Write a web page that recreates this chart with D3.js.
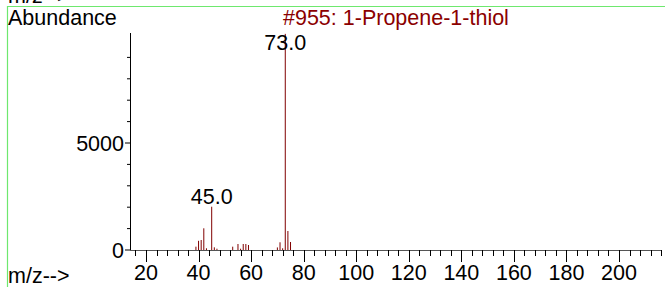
<!DOCTYPE html>
<html><head><meta charset="utf-8">
<script src="https://cdn.jsdelivr.net/npm/d3@7"></script>
<style>html,body{margin:0;padding:0;background:#fff;}svg{display:block;}</style>
</head><body><svg id="c" width="665" height="287"></svg>
<script>
const mz =        [39, 40, 41, 42,   43, 45,   46,  47, 53,  55,  56, 57,  58,  59,  70,  71,  72, 73,   74,  75];
const abundance = [155,430,467,1014, 80, 2023, 125, 60, 155, 280, 60, 280, 280, 233, 120, 360, 80, 10100,888, 374];
const peakLabels = [{mz:45, text:"45.0"}, {mz:73, text:"73.0"}];
const xMajor = [20,40,60,80,100,120,140,160,180,200];
const yMajor = [0,5000];
const title = "#955: 1-Propene-1-thiol";

const svg = d3.select("#c");
const font = "'Liberation Sans', Arial, sans-serif";
const fs = 21.5;
const x = d3.scaleLinear().domain([20,200]).range([146,619]);
const y = d3.scaleLinear().domain([0,5000]).range([250,143]);

// green frame
svg.append("path").attr("d","M7.5,300V6.5H700").attr("fill","none").attr("stroke","#6ee86e").attr("stroke-width",1.2);

// top cut label
svg.append("text").attr("x",8).attr("y",3).attr("font-family",font).attr("font-size",fs).text("m/z-->");

svg.append("text").attr("x",8).attr("y",25).attr("font-family",font).attr("font-size",fs).attr("fill","#000").text("Abundance");
svg.append("text").attr("x",283).attr("y",25).attr("font-family",font).attr("font-size",fs).attr("fill","#8b0000").text(title);

// y axis
svg.append("line").attr("x1",130.5).attr("x2",130.5).attr("y1",33).attr("y2",250).attr("stroke","#000");
const yMinor = d3.range(1000,10001,1000).filter(v=>v%5000!==0);
svg.selectAll(".ymin").data(yMinor).enter().append("line")
  .attr("x1",127).attr("x2",130).attr("y1",d=>y(d)).attr("y2",d=>y(d)).attr("stroke","#000");
svg.selectAll(".ymaj").data(yMajor).enter().append("line")
  .attr("x1",125).attr("x2",130).attr("y1",d=>y(d)).attr("y2",d=>y(d)).attr("stroke","#000");
svg.selectAll(".ylab").data(yMajor).enter().append("text")
  .attr("x",124).attr("y",d=>y(d)+7.5).attr("text-anchor","end")
  .attr("font-family",font).attr("font-size",fs).text(d=>d);

// x axis
svg.append("line").attr("x1",130).attr("x2",662).attr("y1",250.5).attr("y2",250.5).attr("stroke","#555");
const xMinor = d3.range(16,217,4).filter(v=>!xMajor.includes(v));
svg.selectAll(".xmin").data(xMinor).enter().append("line")
  .attr("x1",d=>Math.round(x(d))+0.5).attr("x2",d=>Math.round(x(d))+0.5).attr("y1",250).attr("y2",256).attr("stroke","#000");
svg.selectAll(".xmaj").data(xMajor).enter().append("line")
  .attr("x1",d=>Math.round(x(d))+0.5).attr("x2",d=>Math.round(x(d))+0.5).attr("y1",250).attr("y2",262).attr("stroke","#000");
svg.selectAll(".xlab").data(xMajor).enter().append("text")
  .attr("x",d=>x(d)).attr("y",280).attr("text-anchor","middle")
  .attr("font-family",font).attr("font-size",fs).text(d=>d);
svg.append("text").attr("x",8).attr("y",283).attr("font-family",font).attr("font-size",fs).text("m/z-->");

// bars
svg.selectAll(".bar").data(mz.map((m,i)=>({m,v:abundance[i]}))).enter().append("line")
  .attr("x1",d=>x(d.m)).attr("x2",d=>x(d.m)).attr("y1",250).attr("y2",d=>y(d.v))
  .attr("stroke","#800000").attr("stroke-width",1);

// peak labels
svg.selectAll(".pl").data(peakLabels).enter().append("text")
  .attr("x",d=>x(d.mz)).attr("y",d=>d.mz===73 ? 50 : y(abundance[mz.indexOf(d.mz)])-3)
  .attr("text-anchor","middle").attr("font-family",font).attr("font-size",fs).text(d=>d.text);
</script></body></html>
